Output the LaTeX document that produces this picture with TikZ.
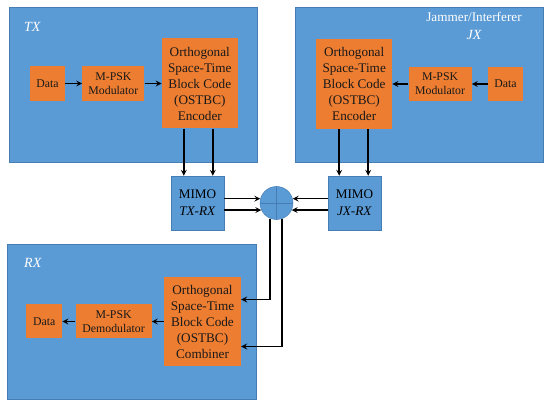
\documentclass[tikz,border=0pt]{standalone}
\usepackage{fontspec}
\setmainfont{Liberation Serif}
\usepackage{xcolor}
\usepackage{tikz}
\usetikzlibrary{shapes,arrows,positioning,calc}
\definecolor{ofblue}{RGB}{91,155,213}
\definecolor{ofedge}{RGB}{70,125,180}
\definecolor{oforange}{RGB}{237,125,49}

\begin{document}
\begin{tikzpicture}[x=1pt, y=-1pt,
    area/.style={rectangle, draw=ofedge, line width=0.4pt, fill=ofblue, inner sep=0pt},
    blk/.style={rectangle, fill=oforange, text=black!90, align=center, inner sep=0pt, font=\fontsize{11.8}{14}\selectfont},
    big/.style={blk, minimum width=76pt, minimum height=90pt, font=\fontsize{13.2}{16}\selectfont},
    mimo/.style={rectangle, draw=ofedge, line width=0.4pt, fill=ofblue, minimum width=53pt, minimum height=54pt, align=center, inner sep=0pt, font=\fontsize{13.2}{17}\selectfont},
    tag/.style={text=white, font=\fontsize{14}{16}\selectfont\itshape, inner sep=0pt},
    arrow/.style={->, line width=1.6pt, >=stealth}]
  \useasboundingbox (0,0) rectangle (550,406);
  % the three areas
  \node[area, minimum width=248pt, minimum height=155pt] (txarea) at (133,84.5) {};
  \node[area, minimum width=248pt, minimum height=155pt] (jxarea) at (419,84.5) {};
  \node[area, minimum width=249pt, minimum height=155pt] (rxarea) at (131.5,321.5) {};
  \node[tag, anchor=west] (txtag) at (24,27) {TX};
  \node[tag, font=\fontsize{13.2}{16}\selectfont] (jxname) at (474,17) {Jammer/Interferer};
  \node[tag] (jxtag) at (474,35) {JX};
  \node[tag, anchor=west] (rxtag) at (24,263) {RX};
  % transmitter
  \node[blk, minimum width=35pt, minimum height=35pt] (txdata) at (47.5,83.5) {Data};
  \node[blk, minimum width=62pt, minimum height=35pt, right=17pt of txdata] (txmod) {M-PSK\\Modulator};
  \node[big, right=17pt of txmod] (txenc) {Orthogonal\\Space-Time\\Block Code\\(OSTBC)\\Encoder};
  % jammer
  \node[blk, minimum width=35pt, minimum height=34pt] (jxdata) at (505.5,84) {Data};
  \node[blk, minimum width=63pt, minimum height=34pt, left=16pt of jxdata] (jxmod) {M-PSK\\Modulator};
  \node[big, left=16pt of jxmod] (jxenc) {Orthogonal\\Space-Time\\Block Code\\(OSTBC)\\Encoder};
  % channel
  \node[mimo] (txmimo) at (197.5,203) {MIMO\\\textit{TX-RX}};
  \node[mimo] (jxmimo) at (354.5,203) {MIMO\\\textit{JX-RX}};
  \node[circle, draw=ofedge, line width=0.5pt, fill=ofblue, minimum size=33pt, inner sep=0pt] (sum) at (276.5,203) {};
  \draw[ofedge, line width=0.5pt] (sum.north) -- (sum.south) (sum.west) -- (sum.east);
  % receiver
  \node[big, minimum width=77pt, minimum height=89pt] (rxcomb) at (202.5,321.5) {Orthogonal\\Space-Time\\Block Code\\(OSTBC)\\Combiner};
  \node[blk, minimum width=76pt, minimum height=34pt, left=12pt of rxcomb] (rxmod) {M-PSK\\Demodulator};
  \node[blk, minimum width=36pt, minimum height=34pt, left=13pt of rxmod] (rxdata) {Data};
  % connections
  \draw[arrow] (txdata) -- (txmod);
  \draw[arrow] (txmod) -- (txenc);
  \draw[arrow] (jxdata) -- (jxmod);
  \draw[arrow] (jxmod) -- (jxenc);
  \draw[arrow] (rxmod) -- (rxdata);
  \draw[arrow] (rxcomb) -- (rxmod);
  \draw[arrow] ([xshift=-16pt]txenc.south) -- ([xshift=-16pt]txenc.south |- txmimo.north);
  \draw[arrow] ([xshift=13pt]txenc.south) -- ([xshift=13pt]txenc.south |- txmimo.north);
  \draw[arrow] ([xshift=-15pt]jxenc.south) -- ([xshift=-15pt]jxenc.south |- jxmimo.north);
  \draw[arrow] ([xshift=14pt]jxenc.south) -- ([xshift=14pt]jxenc.south |- jxmimo.north);
  \draw[arrow] (sum.165 -| txmimo.east) -- (sum.165);
  \draw[arrow] (sum.205 -| txmimo.east) -- (sum.205);
  \draw[arrow] (sum.15 -| jxmimo.west) -- (sum.15);
  \draw[arrow] (sum.-25 -| jxmimo.west) -- (sum.-25);
  \draw[arrow] (sum.248) |- ([yshift=22pt]rxcomb.east);
  \draw[arrow] (sum.290) |- ([yshift=-25pt]rxcomb.east);
\end{tikzpicture}
\end{document}
